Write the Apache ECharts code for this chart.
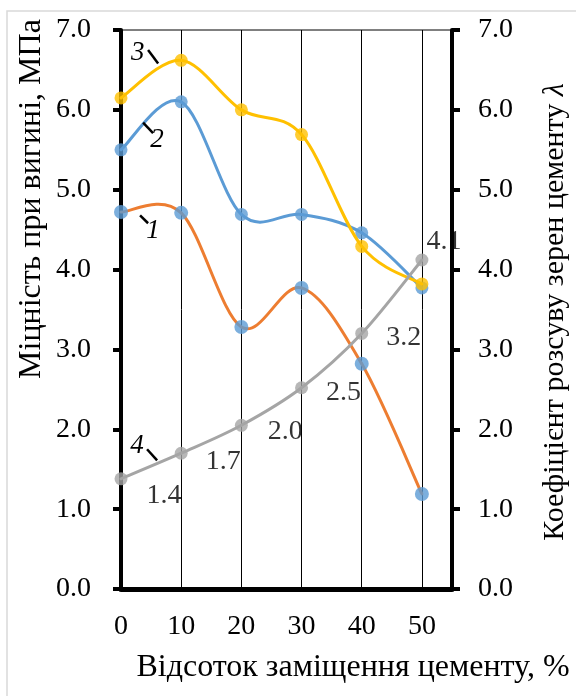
<!DOCTYPE html>
<html><head><meta charset="utf-8">
<script src="https://cdn.jsdelivr.net/npm/echarts@6/dist/echarts.min.js"></script>
<style>html,body{margin:0;padding:0;background:#fff}#c{width:576px;height:696px}</style>
</head><body><div id="c"></div>
<script>
// ---- data ----
const xValues = [0, 10, 20, 30, 40, 50];
const strength1 = [4.72, 4.71, 3.28, 3.77, 2.82, 1.19];
const strength2 = [5.50, 6.10, 4.69, 4.69, 4.46, 3.77];
const strength3 = [6.15, 6.62, 6.00, 5.69, 4.29, 3.82];
const lambda4 = [1.38, 1.70, 2.05, 2.52, 3.20, 4.12];
const lambdaLabels = ['1.4', '1.7', '2.0', '2.5', '3.2', '4.1'];
const yTicks = [0, 1, 2, 3, 4, 5, 6, 7];
const seriesNames = ['1', '2', '3', '4'];
const xAxisTitle = 'Відсоток заміщення цементу, %';
const yLeftTitle = 'Міцність при вигині, МПа';
const yRightTitle = 'Коефіцієнт розсуву зерен цементу ';

// ---- styling (not data) ----
const FONT = '"Liberation Serif", "Times New Roman", serif';
const labelOffsets = [[43, 17], [42, 8], [44, 6], [42, 5], [42, 4], [22, -18]];
// annotation anchors in data space: text centre, leader line start, leader line end
const annotations = [
  { text: '3', t: [2.8, 6.71], a: [4.5, 6.75], b: [6.17, 6.58] },
  { text: '2', t: [6.0, 5.62], a: [3.67, 5.84], b: [5.33, 5.71] },
  { text: '1', t: [5.33, 4.48], a: [3.17, 4.68], b: [4.5, 4.58] },
  { text: '4', t: [2.67, 1.79], a: [4.33, 1.75], b: [6.0, 1.61] }
];

const pairs = arr => xValues.map((x, i) => [x, arr[i]]);

// smooth curve (Catmull-Rom style, like spreadsheet "smoothed line") through the points, via axis scales
function smoothLine(values, color, yAxisIndex, z) {
  const n = values.length;
  return {
    type: 'custom', yAxisIndex: yAxisIndex, z: z, silent: true,
    data: pairs(values),
    encode: { x: 0, y: 1 },
    renderItem: function (params, api) {
      const i = params.dataIndex;
      if (i >= n - 1) return null;
      const P = k => api.coord([xValues[Math.max(0, Math.min(n - 1, k))], values[Math.max(0, Math.min(n - 1, k))]]);
      const p0 = P(i - 1), p1 = P(i), p2 = P(i + 1), p3 = P(i + 2);
      return {
        type: 'bezierCurve',
        shape: {
          x1: p1[0], y1: p1[1], x2: p2[0], y2: p2[1],
          cpx1: p1[0] + (p2[0] - p0[0]) / 6, cpy1: p1[1] + (p2[1] - p0[1]) / 6,
          cpx2: p2[0] - (p3[0] - p1[0]) / 6, cpy2: p2[1] - (p3[1] - p1[1]) / 6
        },
        style: { stroke: color, lineWidth: 3, fill: null, lineCap: 'round' }
      };
    }
  };
}

const chart = echarts.init(document.getElementById('c'), null, { renderer: 'canvas' });

const yAxisCommon = {
  type: 'value', min: yTicks[0], max: yTicks[yTicks.length - 1], interval: 1,
  axisLine: { show: true, lineStyle: { color: '#000', width: 4 } },
  axisTick: { show: true, inside: false, length: 8, lineStyle: { color: '#000', width: 4 } },
  splitLine: { show: false },
  axisLabel: { color: '#000', fontFamily: FONT, fontSize: 28, formatter: v => v.toFixed(1) }
};

const option = {
  animation: false,
  backgroundColor: '#fff',
  grid: { left: 121, right: 124, top: 30, bottom: 107, show: true, borderColor: '#000', borderWidth: 1 },
  xAxis: {
    type: 'value', min: 0, max: 55, interval: 10,
    axisLine: { show: true, lineStyle: { color: '#000', width: 5 } },
    axisTick: { show: false },
    splitLine: { show: true, lineStyle: { color: '#000', width: 1 } },
    axisLabel: { color: '#000', fontFamily: FONT, fontSize: 28, margin: 24,
      formatter: v => (v > 50 ? '' : String(v)) }
  },
  yAxis: [
    Object.assign({}, yAxisCommon, { position: 'left', axisLabel: Object.assign({}, yAxisCommon.axisLabel, { margin: 30 }) }),
    Object.assign({}, yAxisCommon, { position: 'right', axisLabel: Object.assign({}, yAxisCommon.axisLabel, { margin: 26 }) })
  ],
  series: [
    smoothLine(strength1, '#ED7D31', 0, 2),
    { name: seriesNames[0], type: 'scatter', data: pairs(strength1), symbol: 'circle', symbolSize: 14,
      itemStyle: { color: '#5B9BD5' }, z: 3 },
    smoothLine(strength2, '#5B9BD5', 0, 4),
    { name: seriesNames[1], type: 'scatter', data: pairs(strength2), symbol: 'circle', symbolSize: 13,
      itemStyle: { color: '#5B9BD5' }, z: 5 },
    smoothLine(strength3, '#FFC000', 0, 6),
    { name: seriesNames[2], type: 'scatter', data: pairs(strength3), symbol: 'circle', symbolSize: 13,
      itemStyle: { color: '#FFC000' }, z: 7 },
    smoothLine(lambda4, '#A5A5A5', 1, 8),
    { name: seriesNames[3], type: 'scatter', yAxisIndex: 1,
      data: pairs(lambda4).map((p, i) => ({
        value: p,
        label: { show: true, position: 'inside', offset: labelOffsets[i], formatter: lambdaLabels[i] }
      })),
      symbol: 'circle', symbolSize: 13, itemStyle: { color: '#A5A5A5' },
      label: { color: '#000', fontFamily: FONT, fontSize: 28 }, z: 9 }
  ]
};
chart.setOption(option);

const px = p => chart.convertToPixel({ gridIndex: 0 }, p);
const graphics = [
  { type: 'rect', shape: { x: 7, y: 11, width: 600, height: 720 }, style: { fill: 'none', stroke: '#d9d9d9', lineWidth: 1.5 }, silent: true, z: -10 },
  { type: 'text', x: 353, y: 668, style: { text: xAxisTitle, font: '32px ' + FONT, fill: '#000', textAlign: 'center', textVerticalAlign: 'middle' } },
  { type: 'text', x: 32, y: 199, rotation: Math.PI / 2, style: { text: yLeftTitle, font: '32px ' + FONT, fill: '#000', textAlign: 'center', textVerticalAlign: 'middle' } },
  { type: 'text', x: 555, y: 312, rotation: Math.PI / 2,
    style: { text: '{n|' + yRightTitle + '}{l|λ}', fill: '#000', textAlign: 'center', textVerticalAlign: 'middle',
      rich: { n: { fontFamily: FONT, fontSize: 30, fill: '#000' }, l: { fontFamily: FONT, fontSize: 30, fontStyle: 'italic', fill: '#000' } } } }
];
annotations.forEach(an => {
  const t = px(an.t), a = px(an.a), b = px(an.b);
  graphics.push({ type: 'line', shape: { x1: a[0], y1: a[1], x2: b[0], y2: b[1] }, style: { stroke: '#000', lineWidth: 2.5 }, z: 10 });
  graphics.push({ type: 'text', x: t[0], y: t[1], style: { text: an.text, font: 'italic 27px ' + FONT, fill: '#000', textAlign: 'center', textVerticalAlign: 'middle' }, z: 10 });
});
chart.setOption({ graphic: graphics });
</script></body></html>
